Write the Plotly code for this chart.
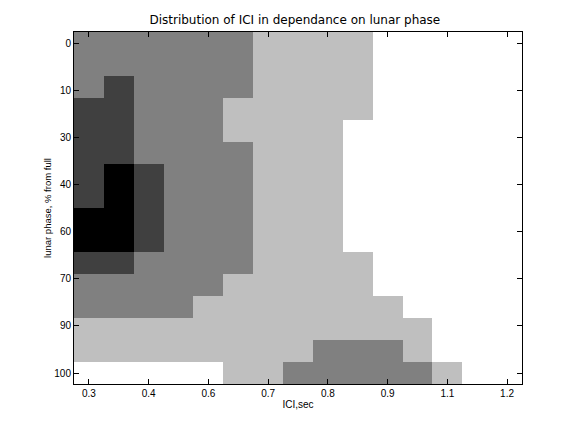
import plotly.graph_objects as go
import numpy as np

# Gray level per cell (0 = white ... 4 = black), rows = lunar-phase bins, cols = ICI bins
levels = [
    [2, 2, 2, 2, 2, 2, 1, 1, 1, 1, 0, 0, 0, 0, 0],
    [2, 2, 2, 2, 2, 2, 1, 1, 1, 1, 0, 0, 0, 0, 0],
    [2, 3, 2, 2, 2, 2, 1, 1, 1, 1, 0, 0, 0, 0, 0],
    [3, 3, 2, 2, 2, 1, 1, 1, 1, 1, 0, 0, 0, 0, 0],
    [3, 3, 2, 2, 2, 1, 1, 1, 1, 0, 0, 0, 0, 0, 0],
    [3, 3, 2, 2, 2, 2, 1, 1, 1, 0, 0, 0, 0, 0, 0],
    [3, 4, 3, 2, 2, 2, 1, 1, 1, 0, 0, 0, 0, 0, 0],
    [3, 4, 3, 2, 2, 2, 1, 1, 1, 0, 0, 0, 0, 0, 0],
    [4, 4, 3, 2, 2, 2, 1, 1, 1, 0, 0, 0, 0, 0, 0],
    [4, 4, 3, 2, 2, 2, 1, 1, 1, 0, 0, 0, 0, 0, 0],
    [3, 3, 2, 2, 2, 2, 1, 1, 1, 1, 0, 0, 0, 0, 0],
    [2, 2, 2, 2, 2, 1, 1, 1, 1, 1, 0, 0, 0, 0, 0],
    [2, 2, 2, 2, 1, 1, 1, 1, 1, 1, 1, 0, 0, 0, 0],
    [1, 1, 1, 1, 1, 1, 1, 1, 1, 1, 1, 1, 0, 0, 0],
    [1, 1, 1, 1, 1, 1, 1, 1, 2, 2, 2, 1, 0, 0, 0],
    [0, 0, 0, 0, 0, 1, 1, 2, 2, 2, 2, 2, 1, 0, 0],
]
x_tick_labels = ["0.3", "0.4", "0.6", "0.7", "0.8", "0.9", "1.1", "1.2"]
y_tick_labels = ["0", "10", "30", "40", "60", "70", "90", "100"]

n_rows = len(levels)
n_cols = len(levels[0])
x_idx = list(range(1, n_cols + 1))
y_idx = list(range(1, n_rows + 1))

x_tickvals = list(range(1, n_cols + 1, 2))
y_tickvals = list(np.linspace(1, n_rows, len(y_tick_labels)))

colorscale = [
    [0.0, "#FFFFFF"], [0.125, "#FFFFFF"],
    [0.125, "#BFBFBF"], [0.375, "#BFBFBF"],
    [0.375, "#808080"], [0.625, "#808080"],
    [0.625, "#404040"], [0.875, "#404040"],
    [0.875, "#000000"], [1.0, "#000000"],
]

fig = go.Figure(go.Heatmap(
    z=levels, x=x_idx, y=y_idx, zmin=0, zmax=4,
    colorscale=colorscale, showscale=False, hoverinfo="skip",
))

font_family = "Liberation Sans, Arial, sans-serif"
axis_common = dict(
    showline=True, linecolor="black", linewidth=1, mirror="allticks",
    ticks="inside", ticklen=5, tickcolor="black", tickwidth=1,
    showgrid=False, zeroline=False, automargin=False,
    tickfont=dict(family=font_family, size=10, color="black"),
)

# page body has an 8px default margin; figure is sized to fit inside the window
fig.update_layout(
    width=568, height=424,
    margin=dict(l=66, r=54, t=24, b=48),
    paper_bgcolor="white", plot_bgcolor="white",
    title=dict(text="Distribution of ICI in dependance on lunar phase",
               x=0.505, xanchor="center", y=0.9717, yanchor="middle",
               font=dict(family="DejaVu Sans, sans-serif", size=12, color="black")),
    xaxis=dict(range=[0.5, n_cols + 0.5], tickmode="array",
               tickvals=x_tickvals, ticktext=x_tick_labels,
               title=dict(text="ICI,sec", standoff=2,
                          font=dict(family=font_family, size=10, color="black")),
               **axis_common),
    yaxis=dict(range=[n_rows + 0.5, 0.5], tickmode="array",
               tickvals=y_tickvals, ticktext=y_tick_labels,
               title=dict(text="lunar phase, % from full", standoff=0,
                          font=dict(family=font_family, size=9.5, color="black")),
               **axis_common),
)

fig.write_html("out.html")
